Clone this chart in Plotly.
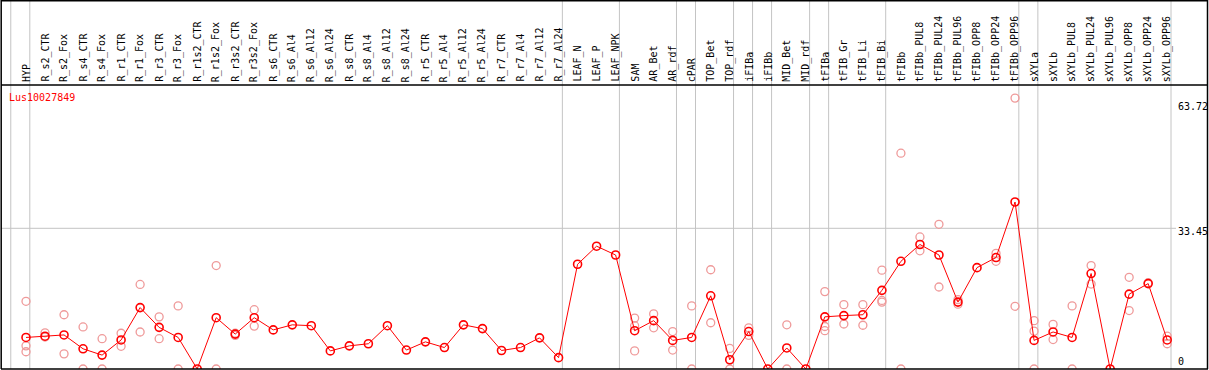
import plotly.graph_objects as go

categories = [
    "HYP", "R_s2_CTR", "R_s2_Fox", "R_s4_CTR", "R_s4_Fox", "R_r1_CTR", "R_r1_Fox",
    "R_r3_CTR", "R_r3_Fox", "R_r1s2_CTR", "R_r1s2_Fox", "R_r3s2_CTR", "R_r3s2_Fox",
    "R_s6_CTR", "R_s6_Al4", "R_s6_Al12", "R_s6_Al24", "R_s8_CTR", "R_s8_Al4",
    "R_s8_Al12", "R_s8_Al24", "R_r5_CTR", "R_r5_Al4", "R_r5_Al12", "R_r5_Al24",
    "R_r7_CTR", "R_r7_Al4", "R_r7_Al12", "R_r7_Al24", "LEAF_N", "LEAF_P", "LEAF_NPK",
    "SAM", "AR_Bet", "AR_rdf", "cPAR", "TOP_Bet", "TOP_rdf", "iFIBa", "iFIBb",
    "MID_Bet", "MID_rdf", "tFIBa", "tFIB_Gr", "tFIB_Li", "tFIB_Bi", "tFIBb",
    "tFIBb_PUL8", "tFIBb_PUL24", "tFIBb_PUL96", "tFIBb_OPP8", "tFIBb_OPP24",
    "tFIBb_OPP96", "sXYLa", "sXYLb", "sXYLb_PUL8", "sXYLb_PUL24", "sXYLb_PUL96",
    "sXYLb_OPP8", "sXYLb_OPP24", "sXYLb_OPP96",
]

mean_values = [
    7.5, 7.8, 8.1, 4.8, 3.3, 6.9, 14.6, 9.9, 7.5, 0, 12.2, 8.3, 12.2,
    9.3, 10.5, 10.3, 4.3, 5.5, 6.0, 10.3, 4.5, 6.45, 5.1, 10.5, 9.6,
    4.4, 5.1, 7.4, 2.7, 24.9, 29.2, 27.1,
    9.1, 11.5, 6.8, 7.5, 17.4, 2.2, 8.9, 0,
    5.0, 0, 12.4, 12.7, 12.9, 18.7, 25.6,
    29.6, 27.1, 15.9, 24.1, 26.5, 39.7,
    6.8, 8.8, 7.5, 22.7, 0, 17.8, 20.3, 6.9,
]

replicate_cats = [
    "HYP", "HYP", "HYP", "R_s2_CTR", "R_s2_CTR", "R_s2_Fox", "R_s2_Fox",
    "R_s4_CTR", "R_s4_CTR", "R_s4_Fox", "R_s4_Fox", "R_r1_CTR", "R_r1_CTR",
    "R_r1_Fox", "R_r1_Fox", "R_r3_CTR", "R_r3_CTR", "R_r3_Fox", "R_r3_Fox",
    "R_r1s2_Fox", "R_r1s2_Fox", "R_r3s2_CTR", "R_r3s2_CTR", "R_r3s2_Fox", "R_r3s2_Fox",
    "SAM", "SAM", "SAM", "AR_Bet", "AR_Bet", "AR_rdf", "AR_rdf", "cPAR", "cPAR",
    "TOP_Bet", "TOP_Bet", "TOP_rdf", "TOP_rdf", "iFIBa", "iFIBa", "MID_Bet", "MID_Bet",
    "tFIBa", "tFIBa", "tFIBa", "tFIB_Gr", "tFIB_Gr", "tFIB_Li", "tFIB_Li",
    "tFIB_Bi", "tFIB_Bi", "tFIB_Bi", "tFIBb", "tFIBb", "tFIBb_PUL8", "tFIBb_PUL8",
    "tFIBb_PUL24", "tFIBb_PUL24", "tFIBb_PUL96", "tFIBb_PUL96", "tFIBb_OPP24", "tFIBb_OPP24",
    "tFIBb_OPP96", "tFIBb_OPP96", "sXYLa", "sXYLa", "sXYLa", "sXYLb", "sXYLb",
    "sXYLb_PUL8", "sXYLb_PUL8", "sXYLb_PUL24", "sXYLb_PUL24", "sXYLb_OPP8", "sXYLb_OPP8",
    "sXYLb_OPP24", "sXYLb_OPP96", "sXYLb_OPP96",
]
replicate_vals = [
    16.1, 5.5, 4.1, 8.6, 7.6, 12.9, 3.6,
    10.0, 0, 7.2, 0, 8.5, 5.4,
    20.1, 8.8, 12.4, 7.2, 15.0, 0,
    24.6, 0, 8.5, 8.0, 14.1, 10.2,
    12.1, 10.3, 4.3, 13.1, 9.8, 8.9, 4.5, 15.0, 0,
    23.6, 11.0, 4.9, 0, 9.8, 8.0, 10.5, 0,
    18.4, 10.1, 9.1, 15.3, 10.7, 15.3, 10.4,
    23.5, 16.3, 15.9, 51.3, 0, 31.4, 28.1,
    34.4, 19.5, 16.5, 15.4, 27.5, 25.6,
    64.4, 14.9, 11.5, 9.0, 0, 10.6, 7.0,
    15.0, 0, 24.6, 20.2, 21.8, 13.9,
    20.5, 7.8, 6.0,
]

group_sizes = [1, 28, 3, 3, 1, 2, 1, 1, 2, 1, 3, 7, 1, 7]
y_tick_vals = [63.72, 33.45, 0]
y_tick_text = ["63.72", "33.45", "0"]
gene_name = "Lus10027849"

W, H = 1209, 370
FONT = "DejaVu Sans Mono"
px0, pstep = 26.0, 19.02          # pixel of first category, pixel per category
x_range = [-px0 / pstep, (W - px0) / pstep]
plot_top, plot_bot = 85, 369      # pixel rows
px_per_unit = (369 - 228.3) / 33.45
y_range = [0, (plot_bot - plot_top) / px_per_unit]

def py(p):  # pixel row -> paper y
    return (H - p) / H

def pxp(p):  # pixel col -> paper x
    return p / W

fig = go.Figure()
fig.add_trace(go.Scatter(
    x=replicate_cats, y=replicate_vals, mode="markers",
    marker=dict(symbol="circle-open", size=8, color="#ef9a9a", line=dict(width=1.3, color="#ef9a9a")),
    showlegend=False, hoverinfo="x+y",
))
fig.add_trace(go.Scatter(
    x=categories, y=mean_values, mode="lines+markers",
    line=dict(color="#ff0000", width=1),
    marker=dict(symbol="circle-open", size=8, color="#ff0000", line=dict(width=1.6, color="#ff0000")),
    showlegend=False, hoverinfo="x+y",
))

shapes = []
pos = -1
bounds = [pos]
for s in group_sizes:
    pos += s
    bounds.append(pos)
for b in bounds:
    shapes.append(dict(type="line", xref="x", yref="paper", x0=b + 0.2, x1=b + 0.2,
                       y0=py(plot_bot), y1=1, line=dict(color="#c4c4c4", width=1), layer="below"))
shapes.append(dict(type="line", xref="paper", yref="y", x0=pxp(1), x1=pxp(1176),
                   y0=y_tick_vals[1], y1=y_tick_vals[1], line=dict(color="#c4c4c4", width=1), layer="below"))
blk = dict(color="#000000", width=1.5)
shapes += [
    dict(type="line", xref="paper", yref="paper", x0=pxp(1), x1=pxp(1208), y0=py(0.7), y1=py(0.7), line=blk),
    dict(type="line", xref="paper", yref="paper", x0=pxp(1), x1=pxp(1208), y0=py(plot_top), y1=py(plot_top), line=blk),
    dict(type="line", xref="paper", yref="paper", x0=pxp(1), x1=pxp(1208), y0=py(plot_bot), y1=py(plot_bot), line=blk),
    dict(type="line", xref="paper", yref="paper", x0=pxp(1.2), x1=pxp(1.2), y0=py(0), y1=py(plot_bot), line=blk),
    dict(type="line", xref="paper", yref="paper", x0=pxp(1207.5), x1=pxp(1207.5), y0=py(0), y1=py(plot_bot), line=blk),
]

annotations = []
for i, c in enumerate(categories):
    annotations.append(dict(x=i, y=py(plot_top - 2), xref="x", yref="paper", text=c,
                            textangle=-90, showarrow=False, xanchor="center", yanchor="bottom",
                            font=dict(family=FONT, size=10, color="#000000"),
                            borderpad=0))
annotations.append(dict(x=pxp(8), y=py(97), xref="paper", yref="paper", text=gene_name,
                        showarrow=False, xanchor="left", yanchor="middle",
                        font=dict(family=FONT, size=10, color="#ff0000"), borderpad=0))
label_rows = [106.7, 231.7, 361.7]
for t, r in zip(y_tick_text, label_rows):
    annotations.append(dict(x=pxp(1177), y=py(r), xref="paper", yref="paper", text=t,
                            showarrow=False, xanchor="left", yanchor="middle",
                            font=dict(family=FONT, size=10, color="#000000"), borderpad=0))

fig.update_layout(
    width=W, height=H, margin=dict(l=0, r=0, t=0, b=0),
    paper_bgcolor="white", plot_bgcolor="white",
    xaxis=dict(type="category", categoryorder="array", categoryarray=categories,
               range=x_range, visible=False, showgrid=False, zeroline=False),
    yaxis=dict(range=y_range, domain=[py(plot_bot), py(plot_top)], visible=False,
               showgrid=False, zeroline=False),
    shapes=shapes, annotations=annotations,
)
fig.write_html(
    "out.html",
    config={"displayModeBar": False},
    post_script="document.body.style.margin='0';document.body.style.padding='0';"
                "document.body.style.overflow='hidden';",
)
